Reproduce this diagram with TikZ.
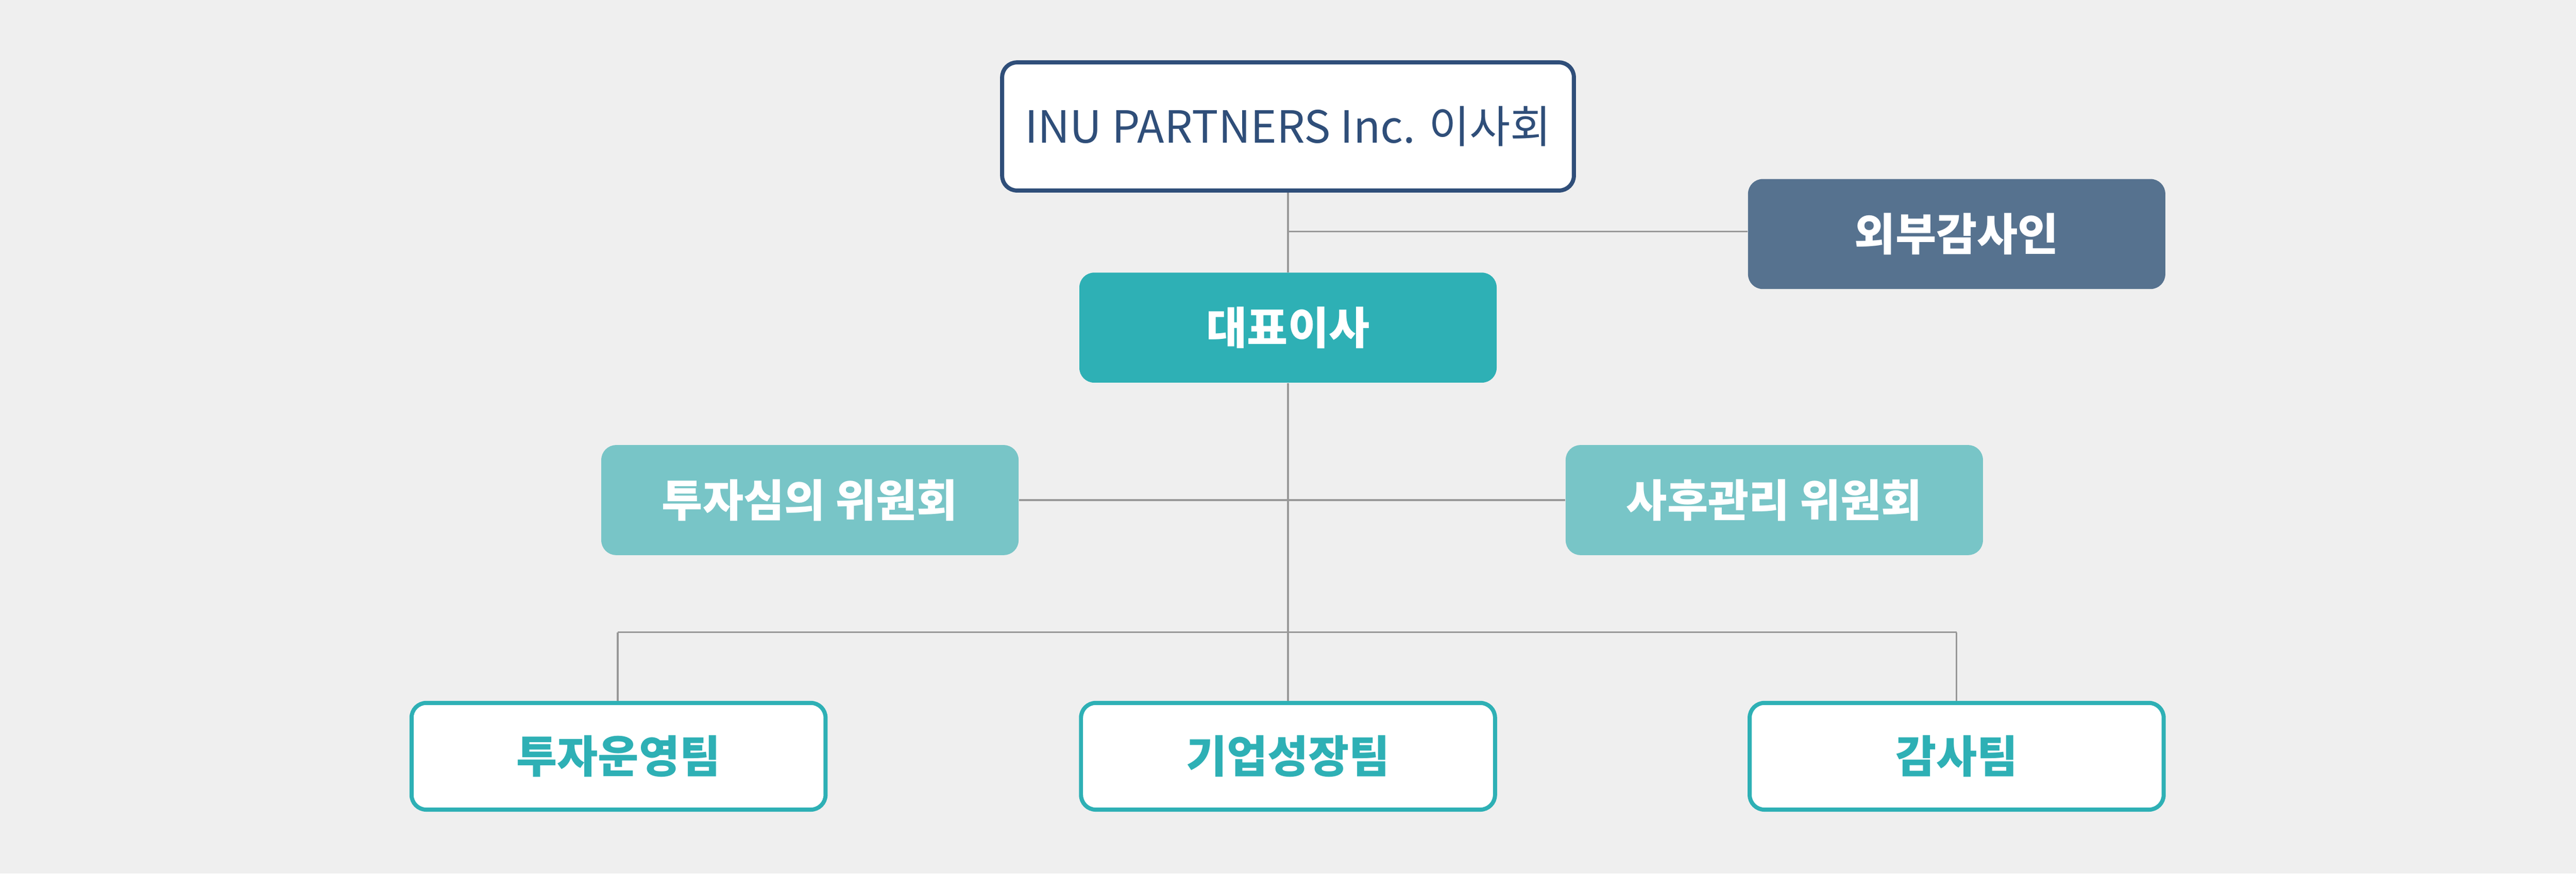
\documentclass[tikz,border=0pt]{standalone}
\usepackage{fontspec}
\setmainfont{Noto Sans CJK KR}
\definecolor{bg}{HTML}{EFEFEF}
\definecolor{navy}{HTML}{2F4E79}
\definecolor{slate}{HTML}{56728F}
\definecolor{teal}{HTML}{2EB0B5}
\definecolor{lteal}{HTML}{78C5C7}
\definecolor{ln}{HTML}{999999}
\tikzset{
 box/.style={rounded corners=9pt,minimum width=254pt,minimum height=67pt,inner sep=0pt,font=\fontsize{27}{32}\selectfont\bfseries,text=white},
 topbox/.style={box,draw=navy,line width=2.5pt,fill=white,text=navy,minimum width=348pt,minimum height=78pt,font=\fontsize{27}{32}\selectfont},
 fillbox/.style={box,fill=#1},
 teambox/.style={box,draw=teal,line width=2.5pt,fill=white,text=teal,minimum width=252pt,minimum height=65pt},
 conn/.style={draw=ln,line width=1pt}
}
\begin{document}
\begin{tikzpicture}[x=1pt,y=-1pt]
\fill[bg] (0,0) rectangle (1568,532);
\useasboundingbox (0,0) rectangle (1568,532);
\coordinate (c1) at (784,141);
\coordinate (c3) at (784,385);
\coordinate (l3) at (376,385);
\coordinate (r3) at (1191,385);
\node[topbox] (top) at (784,77) {INU PARTNERS Inc. 이사회};
\node[fillbox=slate] (ext) at (1191,142.5) {외부감사인};
\node[fillbox=teal] (ceo) at (784,199.5) {대표이사};
\node[fillbox=lteal] (inv) at (493,304.5) {투자심의 위원회};
\node[fillbox=lteal] (post) at (1080,304.5) {사후관리 위원회};
\node[teambox] (t1) at (376.5,460.5) {투자운영팀};
\node[teambox] (t2) at (784,460.5) {기업성장팀};
\node[teambox] (t3) at (1191,460.5) {감사팀};
\begin{scope}[on background layer/.try]
\end{scope}
\draw[conn] (top.south) -- (c1) -- (ceo.north);
\draw[conn] (c1) -- (ext.west |- c1);
\draw[conn] (ceo.south) -- (c3);
\draw[conn] (inv.east) -- (post.west);
\draw[conn] (l3) -- (r3);
\draw[conn] (l3) -- (t1.north -| l3);
\draw[conn] (r3) -- (t3.north -| r3);
\draw[conn] (c3) -- (t2.north);
\end{tikzpicture}
\end{document}
